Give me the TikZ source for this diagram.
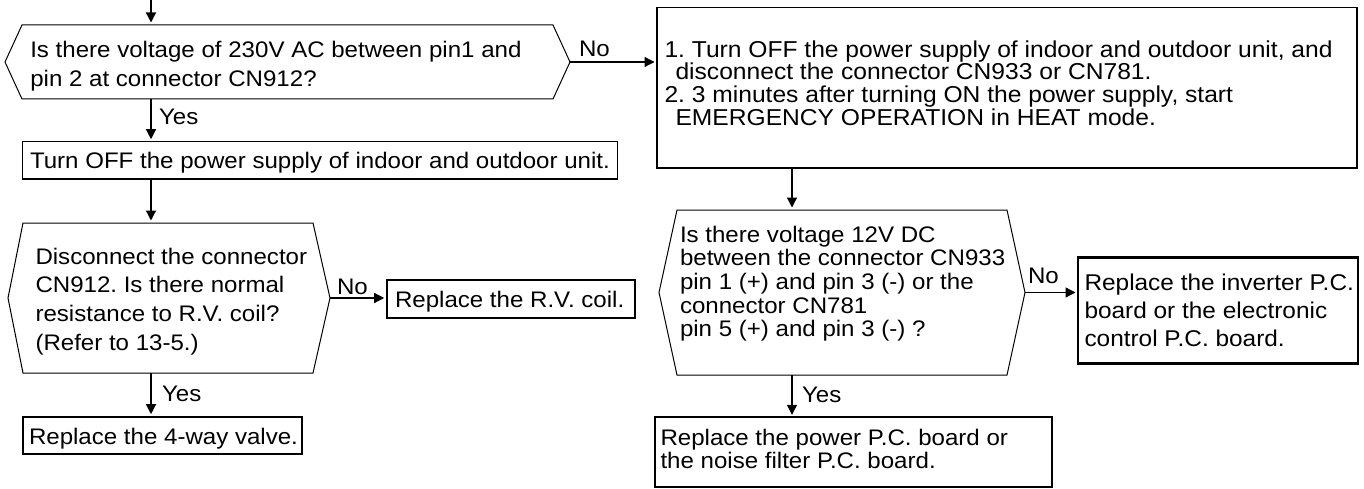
\documentclass[tikz,border=0pt]{standalone}
\usepackage{fontspec}
\setmainfont{Liberation Sans}[FakeStretch=1.07]
\usetikzlibrary{arrows.meta,calc}
\frenchspacing
\newcommand\fsA{\fontsize{22.5}{28.7}\selectfont}
\newcommand\fsB{\fontsize{23}{22.6}\selectfont}
\newcommand\fsC{\fontsize{22.5}{23.6}\selectfont}
\newcommand\fsD{\fontsize{22.8}{28.2}\selectfont}
\newcommand\fsE{\fontsize{22.5}{23.2}\selectfont}
\begin{document}
\begin{tikzpicture}[x=1pt,y=-1pt,
  arr/.style={line width=1.3pt,-{Triangle[length=10pt,width=10pt]},shorten >=2.5pt},
  hexbox/.style={draw=none,inner sep=0,outer sep=0,anchor=north west},
  decision/.style={line width=1pt,line join=miter},
  thinbox/.style={draw,line width=1.3pt,inner sep=0,outer sep=0,anchor=north west},
  thickbox/.style={draw,line width=2.3pt,inner sep=0,outer sep=0,anchor=north west},
  txt/.style={inner sep=0,outer sep=0,align=left,font=\fsA}]
\useasboundingbox (0,0) rectangle (1364,489);
\fill[white] (0,0) rectangle (1364,489);

% ---- decision shapes ----
\node[hexbox,minimum width=531pt,minimum height=74pt] (d1) at (22,25) {};
\coordinate (d1r) at ($(d1.east)+(17,0)$);
\coordinate (d1l) at ($(d1.west)+(-17,0)$);
\draw[decision] (d1.north west) -- (d1.north east) -- (d1r) -- (d1.south east) -- (d1.south west) -- (d1l) -- cycle;

\node[hexbox,minimum width=290pt,minimum height=150pt] (d2) at (23,223) {};
\coordinate (d2r) at ($(d2.east)+(17,0)$);
\coordinate (d2l) at ($(d2.west)+(-15,0)$);
\draw[decision] (d2.north west) -- (d2.north east) -- (d2r) -- (d2.south east) -- (d2.south west) -- (d2l) -- cycle;

\node[hexbox,minimum width=330pt,minimum height=165pt] (d3) at (677,210) {};
\coordinate (d3r) at ($(d3.east)+(18,0)$);
\coordinate (d3l) at ($(d3.west)+(-18,0)$);
\draw[decision] (d3.north west) -- (d3.north east) -- (d3r) -- (d3.south east) -- (d3.south west) -- (d3l) -- cycle;

% ---- boxes ----
\node[thinbox,minimum width=595pt,minimum height=37.3pt] (b1) at (22.7,141.7) {};
\node[thinbox,line width=1.5pt,minimum width=700pt,minimum height=160.7pt] (r1) at (657,7.3) {};
\node[thickbox,minimum width=248.3pt,minimum height=38pt] (r4) at (386.7,280) {};
\node[thickbox,minimum width=279.3pt,minimum height=37.3pt] (r5) at (22.7,416.7) {};
\node[thickbox,line width=2.5pt,minimum width=280pt,minimum height=106pt] (r2) at (1078,257.3) {};
\node[thickbox,line width=2.2pt,minimum width=397pt,minimum height=69.7pt] (r3) at (655,417.3) {};

% ---- texts ----
\node[txt,anchor=north west] (d1t) at (30.3,41) {Is there voltage of 230V AC between pin1 and\\pin 2 at connector CN912?};
\node[txt,anchor=base west] (no1) at (579,57) {No};
\node[txt,anchor=base west] (yes1) at (159,125) {Yes};
\node[txt,anchor=base west] (b1t) at (30,168) {Turn OFF the power supply of indoor and outdoor unit.};
\node[txt,font=\fsB,anchor=north west] (r1t) at (664.5,40.6) {1. Turn OFF the power supply of indoor and outdoor unit, and\\\hspace*{11pt}disconnect the connector CN933 or CN781.\\2. 3 minutes after turning ON the power supply, start\\\hspace*{11pt}EMERGENCY OPERATION in HEAT mode.};
\node[txt,anchor=north west] (d2t) at (35.5,247.7) {Disconnect the connector\\CN912. Is there normal\\resistance to R.V. coil?\\(Refer to 13-5.)};
\node[txt,anchor=base west] (no2) at (337,294) {No};
\node[txt,anchor=base west] (r4t) at (395,307.3) {Replace the R.V. coil.};
\node[txt,anchor=base west] (yes2) at (162,401) {Yes};
\node[txt,anchor=base west] (r5t) at (29,444) {Replace the 4-way valve.};
\node[txt,font=\fsC,anchor=north west] (d3t) at (680,226) {Is there voltage 12V DC\\between the connector CN933\\pin 1 (+) and pin 3 (-) or the\\connector CN781\\pin 5 (+) and pin 3 (-) ?};
\node[txt,anchor=base west] (no3) at (1028,283) {No};
\node[txt,font=\fsD,anchor=north west] (r2t) at (1084.5,274) {Replace the inverter P.C.\\board or the electronic\\control P.C. board.};
\node[txt,anchor=base west] (yes3) at (802,402) {Yes};
\node[txt,font=\fsE,anchor=north west] (r3t) at (660.5,428.7) {Replace the power P.C. board or\\the noise filter P.C. board.};

% ---- connectors ----
\coordinate (colA) at (151,0);
\coordinate (colB) at (792,0);
\draw[arr] (colA) -- (colA |- d1.north);
\draw[arr] (colA |- d1.south) -- (colA |- b1.north);
\draw[arr] (colA |- b1.south) -- (colA |- d2.north);
\draw[arr] (colA |- d2.south) -- (colA |- r5.north);
\draw[arr] (d1r) -- (d1r -| r1.west);
\draw[arr] (d2r) -- (d2r -| r4.west);
\draw[arr] (d3r) -- (d3r -| r2.west);
\draw[arr] (colB |- r1.south) -- (colB |- d3.north);
\draw[arr] (colB |- d3.south) -- (colB |- r3.north);
\end{tikzpicture}
\end{document}
